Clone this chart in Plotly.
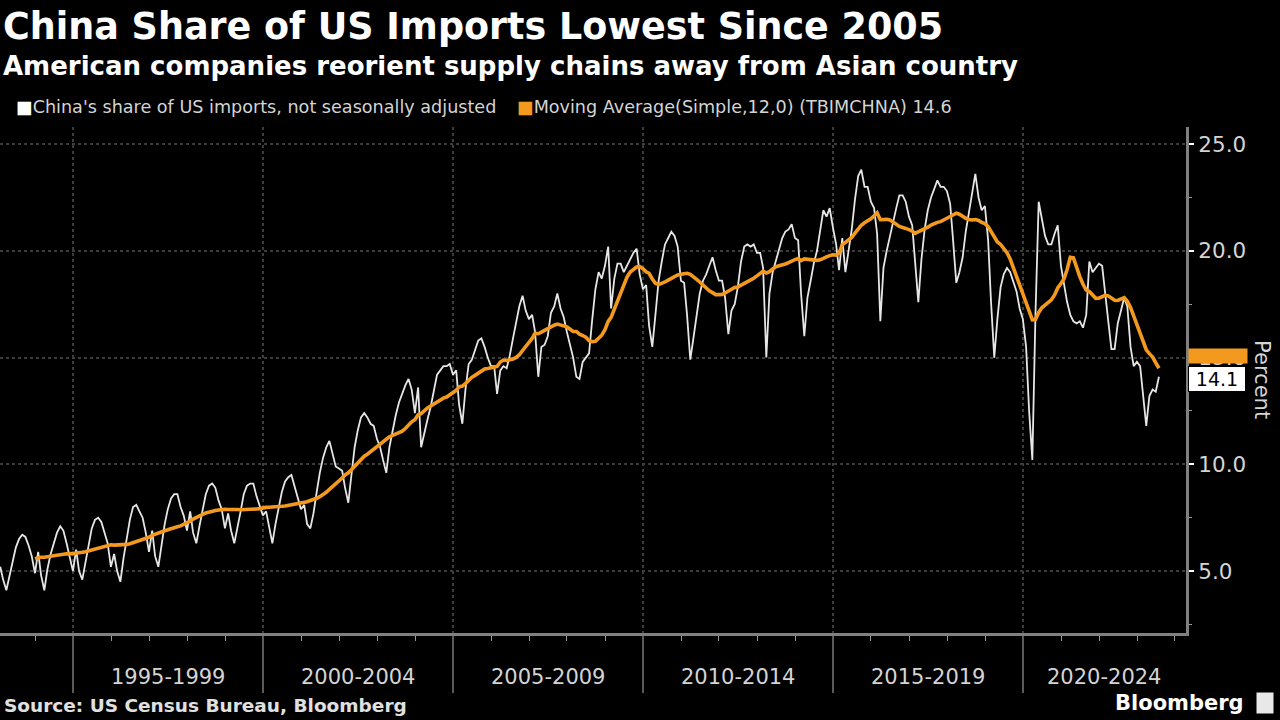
import pandas as pd
import plotly.graph_objects as go

# ---------------- data ----------------
first_month = "1993-01-31"          # monthly observations, plotted at month end
china_share = [
    # 1993
    5.2, 4.6, 4.1, 4.8, 5.5, 6.1, 6.5, 6.7, 6.6, 6.2, 5.7, 4.9,
    # 1994
    5.9, 4.8, 4.1, 5.1, 5.8, 6.3, 6.8, 7.1, 6.9, 6.3, 5.7, 5.0,
    # 1995
    6.0, 5.0, 4.6, 5.4, 6.3, 7.0, 7.4, 7.5, 7.3, 6.8, 6.3, 5.2,
    # 1996
    5.8, 5.0, 4.5, 5.6, 6.6, 7.4, 8.0, 8.1, 7.8, 7.5, 6.8, 5.9,
    # 1997
    6.9, 5.7, 5.2, 6.2, 7.2, 7.9, 8.4, 8.6, 8.6, 8.0, 7.6, 6.9,
    # 1998
    7.8, 6.8, 6.3, 7.1, 7.9, 8.6, 9.0, 9.1, 8.9, 8.3, 7.9, 7.0,
    # 1999
    7.7, 6.9, 6.3, 7.0, 7.8, 8.6, 9.0, 9.1, 9.1, 8.5, 8.1, 7.6,
    # 2000
    7.8, 7.0, 6.3, 7.2, 8.0, 8.7, 9.2, 9.4, 9.5, 9.0, 8.5, 7.9,
    # 2001
    8.1, 7.2, 7.0, 7.7, 8.7, 9.6, 10.3, 10.8, 11.1, 10.5, 9.9, 9.8,
    # 2002
    9.7, 8.9, 8.2, 9.5, 10.8, 11.6, 12.2, 12.4, 12.2, 11.9, 11.8, 11.2,
    # 2003
    10.8, 10.2, 9.6, 10.8, 11.6, 12.3, 12.9, 13.3, 13.7, 14.0, 13.5, 12.4,
    # 2004
    13.6, 10.8, 11.5, 12.1, 12.7, 13.4, 14.2, 14.4, 14.6, 14.6, 14.7, 14.2,
    # 2005
    14.4, 12.8, 11.9, 13.5, 14.7, 14.9, 15.3, 15.8, 15.9, 15.5, 15.0, 14.6,
    # 2006
    14.6, 13.3, 14.4, 14.6, 14.5, 15.1, 15.9, 16.7, 17.4, 17.9, 17.2, 16.8,
    # 2007
    17.0, 16.2, 14.1, 15.5, 15.6, 16.0, 17.1, 17.4, 18.0, 17.3, 16.9, 16.2,
    # 2008
    15.6, 15.0, 14.1, 14.0, 14.8, 15.0, 15.2, 16.8, 18.2, 19.0, 18.7, 19.3,
    # 2009
    20.2, 17.3, 18.7, 19.4, 19.4, 19.0, 19.3, 19.6, 19.9, 20.1, 18.9, 18.2,
    # 2010
    18.4, 16.5, 15.5, 17.0, 18.6, 19.5, 20.3, 20.6, 20.9, 20.7, 20.2, 18.6,
    # 2011
    18.5, 17.0, 14.9, 15.9, 16.9, 18.0, 18.6, 18.9, 19.3, 19.7, 19.1, 18.6,
    # 2012
    18.6, 17.8, 16.1, 17.2, 17.5, 18.3, 19.5, 20.2, 20.3, 20.2, 20.3, 19.9,
    # 2013
    19.9, 19.2, 15.0, 18.0, 19.0, 19.5, 20.1, 20.6, 20.9, 21.0, 21.25, 20.6,
    # 2014
    20.5, 18.0, 16.0, 17.8, 18.6, 19.4, 20.0, 20.9, 21.9, 21.6, 22.0, 21.1,
    # 2015
    20.3, 19.1, 20.6, 19.0, 20.0, 21.0, 22.4, 23.5, 23.8, 23.0, 23.0, 22.3,
    # 2016
    22.0, 20.8, 16.7, 19.2, 20.0, 20.7, 21.4, 22.0, 22.6, 22.6, 22.3, 21.6,
    # 2017
    21.2, 19.5, 17.6, 19.6, 21.0, 21.9, 22.5, 22.9, 23.3, 23.0, 23.0, 22.8,
    # 2018
    22.2, 20.5, 18.5, 19.0, 19.7, 20.9, 21.8, 22.6, 23.6, 22.5, 21.9, 22.1,
    # 2019
    20.5, 17.6, 15.0, 16.8, 18.3, 18.9, 19.2, 19.0, 18.6, 18.1, 17.3, 16.8,
    # 2020
    15.5, 12.5, 10.2, 17.0, 22.3, 21.5, 20.7, 20.3, 20.3, 20.8, 21.2, 19.3,
    # 2021
    18.3, 17.6, 17.0, 16.7, 16.6, 16.7, 16.4, 17.0, 19.5, 19.0, 19.2, 19.4,
    # 2022
    19.3, 18.2, 16.7, 15.4, 15.4, 16.6, 17.2, 17.8, 17.4, 15.5, 14.6, 14.8,
    # 2023
    14.6, 13.3, 11.8, 13.2, 13.5, 13.4, 14.1,
]
ma_window = 12                      # Moving Average(Simple,12,0)
ma_last_label = 14.6
share_last_label = 14.1

period_starts = ["1995-01-01", "2000-01-01", "2005-01-01",
                 "2010-01-01", "2015-01-01", "2020-01-01"]
period_labels = ["1995-1999", "2000-2004", "2005-2009",
                 "2010-2014", "2015-2019", "2020-2024"]
y_ticks = [5, 10, 15, 20, 25]

series_name = "China's share of US imports, not seasonally adjusted"
ma_name = "Moving Average(Simple,12,0) (TBIMCHNA) 14.6"

# ---------------- derived ----------------
dates = pd.date_range(first_month, periods=len(china_share), freq="ME")
moving_avg = pd.Series(china_share, index=dates).rolling(ma_window).mean()

x_range = [pd.Timestamp("1993-01-29"), pd.Timestamp("2024-04-16")]
period_ts = [pd.Timestamp(s) for s in period_starts]
label_pos = []
for i, s in enumerate(period_ts):
    e = period_ts[i + 1] if i + 1 < len(period_ts) else min(s + pd.DateOffset(years=5), x_range[1])
    label_pos.append(s + (e - s) / 2)

# ---------------- style ----------------
BG = "#000000"
WHITE_LINE = "#e6e6e6"
ORANGE = "#f39a1e"
TXT = "#d4d4d4"
GRID = "#3c3c3c"
AXIS = "#808080"
FONT = "DejaVu Sans"

fig = go.Figure()
fig.add_trace(go.Scatter(x=dates, y=china_share, mode="lines", name=series_name,
                         line=dict(color=WHITE_LINE, width=1.8), showlegend=False))
fig.add_trace(go.Scatter(x=moving_avg.index, y=moving_avg.values, mode="lines",
                         name=ma_name, line=dict(color=ORANGE, width=3.6),
                         showlegend=False))

annotations = []
# title + subtitle
annotations.append(dict(text="<b>China Share of US Imports Lowest Since 2005</b>",
                        xref="paper", yref="paper", x=0, y=1.1996, xanchor="left",
                        yanchor="middle", xshift=1, showarrow=False,
                        font=dict(family=FONT, size=36.5, color="#ffffff")))
annotations.append(dict(text="<b>American companies reorient supply chains away from Asian country</b>",
                        xref="paper", yref="paper", x=0, y=1.1206, xanchor="left",
                        yanchor="middle", xshift=1, showarrow=False,
                        font=dict(family=FONT, size=26, color="#ffffff")))
# legend
annotations.append(dict(text=f"<span style='color:#ffffff'>■</span>{series_name}",
                        xref="paper", yref="paper", x=0, y=1.0395, xanchor="left",
                        yanchor="middle", xshift=14, showarrow=False,
                        font=dict(family=FONT, size=17.6, color=TXT)))
annotations.append(dict(text=f"<span style='color:{ORANGE}'>■</span>{ma_name}",
                        xref="paper", yref="paper", x=0, y=1.0395, xanchor="left",
                        yanchor="middle", xshift=515, showarrow=False,
                        font=dict(family=FONT, size=17.6, color=TXT)))
# period labels on x axis
for pos, lab in zip(label_pos, period_labels):
    annotations.append(dict(text=lab, xref="x", yref="paper", x=pos, y=-0.087,
                            xanchor="center", yanchor="middle", showarrow=False,
                            font=dict(family=FONT, size=21, color=TXT)))
# axis title
annotations.append(dict(text="Percent", xref="paper", yref="paper", x=1.064, y=0.5,
                        textangle=90, xanchor="center", yanchor="middle", showarrow=False,
                        font=dict(family=FONT, size=21, color=TXT)))
# last value tags: orange MA tag (mostly tucked behind) and white series tag
annotations.append(dict(text="", xref="paper", yref="y", x=1.0,
                        y=ma_last_label, xanchor="left", yanchor="middle", xshift=2,
                        yshift=10, showarrow=False, bgcolor=ORANGE,
                        width=56, height=12))
annotations.append(dict(text=f"{share_last_label:.1f}", xref="paper", yref="y", x=1.0,
                        y=share_last_label, xanchor="left", yanchor="middle", xshift=2,
                        yshift=-2, showarrow=False, bgcolor="#ffffff", bordercolor="#000000",
                        borderwidth=1, borderpad=1, width=54, align="center",
                        font=dict(family=FONT, size=19, color="#000000")))
# footer
annotations.append(dict(text="<b>Source: US Census Bureau, Bloomberg</b>", xref="paper",
                        yref="paper", x=0, y=-0.144, xanchor="left", yanchor="middle",
                        xshift=2, showarrow=False,
                        font=dict(family=FONT, size=18.5, color="#e0e0e0")))
annotations.append(dict(text="<b>Bloomberg</b>", xref="paper", yref="paper", x=1.0,
                        y=-0.138, xanchor="right", yanchor="middle", xshift=60,
                        showarrow=False, font=dict(family=FONT, size=21, color="#ffffff")))
annotations.append(dict(text="", xref="paper", yref="paper", x=1.0, y=-0.138,
                        xanchor="left", yanchor="middle", xshift=70, width=14, height=18,
                        bgcolor="#e8e8e8", showarrow=False))

fig.update_layout(
    width=1280, height=720,
    paper_bgcolor=BG, plot_bgcolor=BG,
    margin=dict(l=0, r=94, t=127, b=87),
    showlegend=False,
    font=dict(family=FONT, color=TXT),
    annotations=annotations,
    xaxis=dict(
        type="date", range=x_range,
        tickvals=period_ts, ticktext=[""] * len(period_ts),
        ticks="outside", ticklen=57, tickwidth=2, tickcolor="#5a5a5a",
        showgrid=True, gridcolor=GRID, griddash="dot", gridwidth=1.5,
        showline=True, linecolor=AXIS, linewidth=3,
        minor=dict(dtick="M12", tick0="1993-01-01", ticks="outside", ticklen=5,
                   tickcolor="#9a9a9a", tickwidth=1, showgrid=False),
        zeroline=False,
    ),
    yaxis=dict(
        side="right", range=[2.1, 25.8],
        tickvals=y_ticks, ticktext=[f"{v:.1f}" for v in y_ticks],
        ticks="outside", ticklen=5, tickwidth=2, tickcolor="#ffffff",
        tickfont=dict(family=FONT, size=21.5, color=TXT),
        showgrid=True, gridcolor=GRID, griddash="dot", gridwidth=1.5,
        showline=True, linecolor=AXIS, linewidth=3,
        minor=dict(dtick=2.5, ticks="outside", ticklen=3, tickcolor="#9a9a9a",
                   tickwidth=1, showgrid=False),
        zeroline=False,
    ),
)

fig.write_html("out.html")
